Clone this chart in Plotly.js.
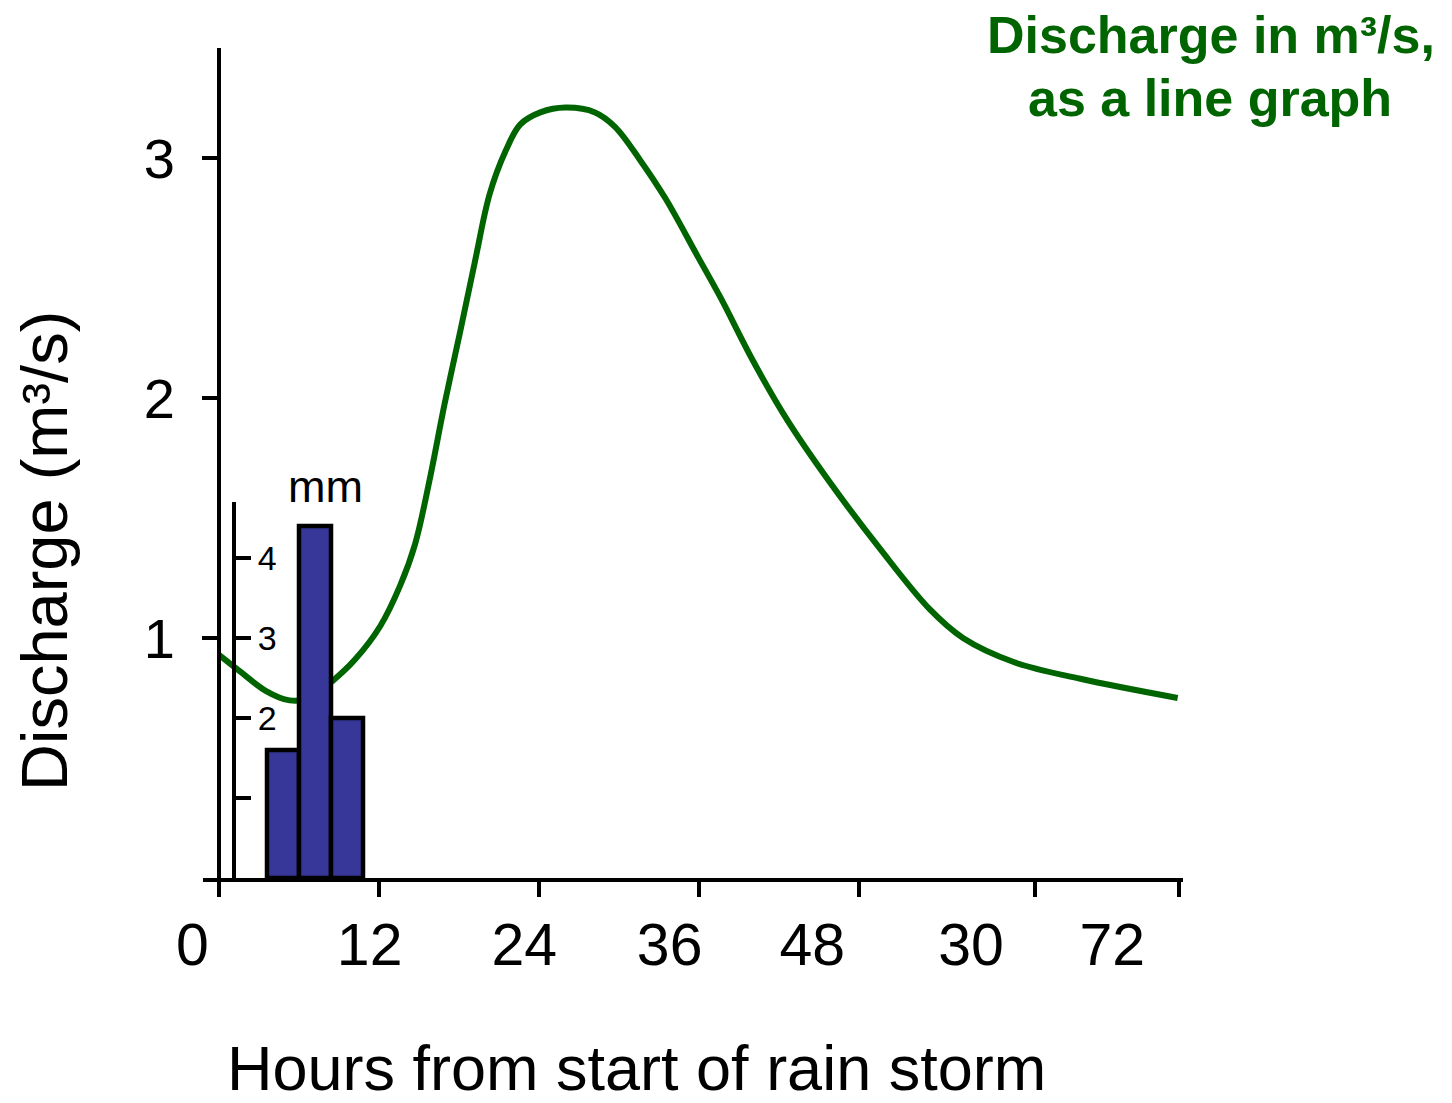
<!DOCTYPE html>
<html>
<head>
<meta charset="utf-8">
<script src="https://cdn.plot.ly/plotly-3.0.1.min.js"></script>
<style>
  html, body { margin: 0; padding: 0; background: #ffffff; }
  #chart { width: 1452px; height: 1103px; }
</style>
</head>
<body>
<div id="chart"></div>
<script>
// Storm hydrograph: river discharge (line) and rainfall (bars)
const hours = [0, 1.6, 3.5, 5.3, 6.8, 8.5, 10.2, 12.1, 13.6, 14.7, 15.8, 16.9, 18.1, 19.2, 20.3, 21.5, 22.6, 24.1, 26.0, 28.2, 29.7, 31.6, 33.5, 35.9, 37.6, 40.1, 42.6, 45.8, 49.6, 53.3, 55.8, 59.6, 64.6, 71.9];
const discharge = [0.93, 0.86, 0.78, 0.74, 0.75, 0.82, 0.91, 1.05, 1.22, 1.39, 1.66, 1.97, 2.28, 2.57, 2.85, 3.03, 3.14, 3.19, 3.21, 3.19, 3.13, 2.99, 2.83, 2.59, 2.42, 2.15, 1.91, 1.65, 1.37, 1.12, 1.00, 0.90, 0.83, 0.75];

const rainHours = [4.8, 7.2, 9.6];
const rainMm = [1.6, 4.4, 2.0];

const tickHours = [0, 12, 24, 36, 48, 61.2, 72];
const labelHours = [-2.0, 11.3, 22.9, 33.8, 44.5, 56.4, 67.0];
const tickText = ['0', '12', '24', '36', '48', '30', '72'];

const dischargeTicks = [1, 2, 3];
const rainLabelTicks = [2, 3, 4];
const rainPlainTicks = [1];

// page pixel -> paper fraction (paper spans x 160..1183, y 48..878)
const L = 160, R = 1183, T = 48, B = 878;
const AXIS_LEFT = 203;            // where the hour axis line begins
const PX_PER_HOUR = 160 / 12;
const ZERO_X = 219;               // pixel column of hour 0
const fx = p => (p - L) / (R - L);
const fy = p => (B - p) / (B - T);
const toHour = p => (p - ZERO_X) / PX_PER_HOUR;

const FONT = 'Liberation Sans, Arial, Helvetica, sans-serif';
const GREEN = '#006400';

const traces = [
  {
    type: 'scatter', mode: 'lines',
    x: hours, y: discharge,
    xaxis: 'x', yaxis: 'y',
    line: { color: GREEN, width: 6, shape: 'spline', smoothing: 1 },
    hoverinfo: 'x+y'
  },
  {
    type: 'bar',
    x: rainHours, y: rainMm, width: 2.4,
    xaxis: 'x', yaxis: 'y2',
    marker: { color: '#373799', line: { color: '#000000', width: 4.5 } },
    hoverinfo: 'x+y'
  },
  // empty carrier so the hour-label axis gets drawn
  {
    type: 'scatter', mode: 'markers', x: [], y: [],
    xaxis: 'x2', yaxis: 'y', hoverinfo: 'skip', showlegend: false
  }
];

const axisCommon = {
  showgrid: false, zeroline: false, fixedrange: true,
  linecolor: '#000000', tickcolor: '#000000'
};

const layout = {
  width: 1452, height: 1103,
  margin: { l: L, r: 1452 - R, t: T, b: 1103 - B, pad: 0 },
  paper_bgcolor: '#ffffff', plot_bgcolor: 'rgba(0,0,0,0)',
  showlegend: false,
  font: { family: FONT, color: '#000000' },
  // hour axis: line and tick marks
  xaxis: Object.assign({}, axisCommon, {
    domain: [fx(AXIS_LEFT), 1], range: [toHour(AXIS_LEFT), toHour(R)], anchor: 'y',
    showline: true, linewidth: 4,
    ticks: 'outside', ticklen: 15, tickwidth: 4,
    tickmode: 'array', tickvals: tickHours, showticklabels: false
  }),
  // hour axis: tick labels
  xaxis2: Object.assign({}, axisCommon, {
    domain: [0, 1], range: [toHour(L), toHour(R)], anchor: 'y', side: 'bottom',
    showline: false, ticks: '',
    tickmode: 'array', tickvals: labelHours, ticktext: tickText,
    tickfont: { size: 59, family: FONT, color: '#000000' },
    ticklabelstandoff: 27
  }),
  yaxis: Object.assign({}, axisCommon, {
    range: [0, 830 / 240], anchor: 'free', position: fx(ZERO_X),
    showline: true, linewidth: 4,
    ticks: 'outside', ticklen: 15, tickwidth: 4,
    tickmode: 'array', tickvals: dischargeTicks,
    tickfont: { size: 56, family: FONT, color: '#000000' },
    ticklabelstandoff: 16
  }),
  yaxis2: Object.assign({}, axisCommon, {
    domain: [0, fy(502)], range: [0, 4.7],
    anchor: 'free', position: fx(234), side: 'right',
    showline: true, linewidth: 4,
    ticks: 'outside', ticklen: 15, tickwidth: 4,
    tickmode: 'array', tickvals: rainLabelTicks,
    tickfont: { size: 34, family: FONT, color: '#000000' },
    minor: {
      tickmode: 'array', tickvals: rainPlainTicks,
      ticks: 'outside', ticklen: 15, tickwidth: 4, tickcolor: '#000000', showgrid: false
    }
  }),
  annotations: [
    {
      text: 'mm', xref: 'x', yref: 'y2', x: 8.0, y: 4.55,
      xanchor: 'center', yanchor: 'bottom', showarrow: false,
      font: { size: 45, family: FONT, color: '#000000' }
    },
    {
      text: 'Discharge (m³/s)', xref: 'paper', yref: 'paper',
      x: fx(44), y: fy(551), xanchor: 'center', yanchor: 'middle',
      textangle: -90, showarrow: false,
      font: { size: 65, family: FONT, color: '#000000' }
    },
    {
      text: 'Hours from start of rain storm', xref: 'paper', yref: 'paper',
      x: fx(636), y: fy(1068), xanchor: 'center', yanchor: 'middle',
      showarrow: false,
      font: { size: 63, family: FONT, color: '#000000' }
    },
    {
      text: 'Discharge in m³/s,', xref: 'paper', yref: 'paper',
      x: fx(1211), y: fy(35), xanchor: 'center', yanchor: 'middle',
      showarrow: false,
      font: { size: 52, family: FONT, color: GREEN, weight: 'bold' }
    },
    {
      text: 'as a line graph', xref: 'paper', yref: 'paper',
      x: fx(1210), y: fy(98), xanchor: 'center', yanchor: 'middle',
      showarrow: false,
      font: { size: 52, family: FONT, color: GREEN, weight: 'bold' }
    }
  ]
};

Plotly.newPlot('chart', traces, layout, { displayModeBar: false, staticPlot: true });
</script>
</body>
</html>
